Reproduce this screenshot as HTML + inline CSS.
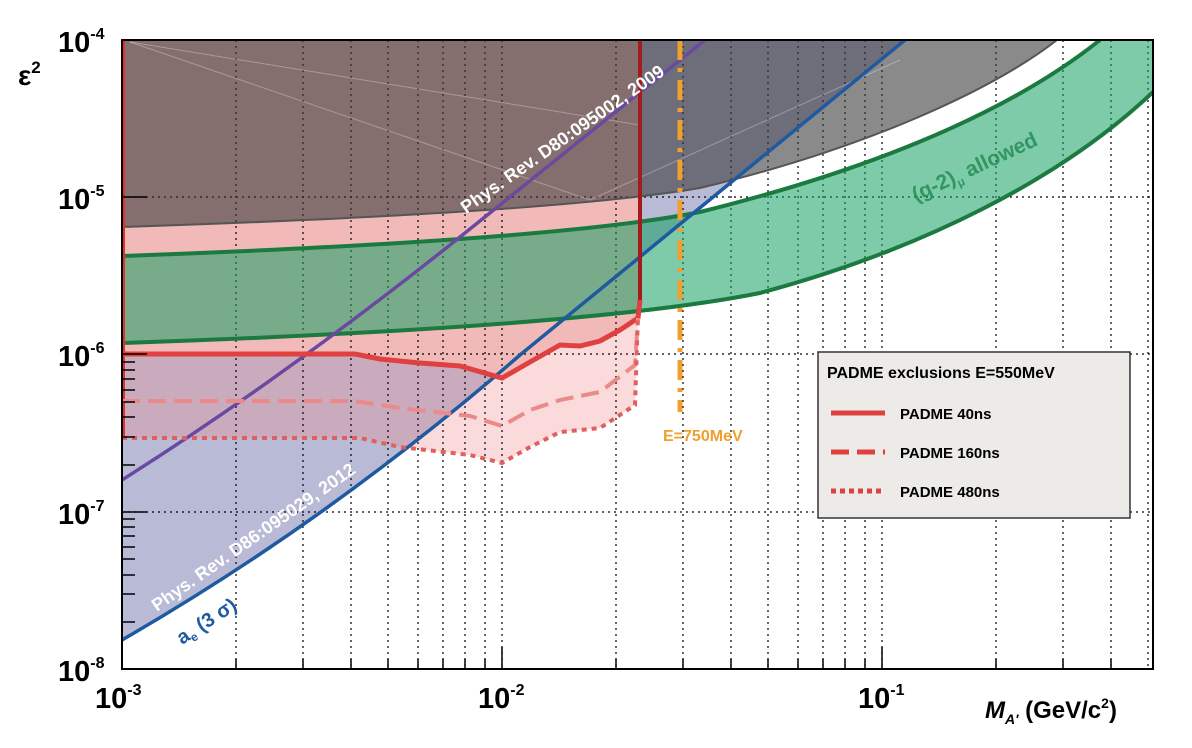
<!DOCTYPE html>
<html><head><meta charset="utf-8"><style>
html,body{margin:0;padding:0;background:#fff;}
svg{display:block;font-family:"Liberation Sans",sans-serif;}
</style></head><body>
<svg width="1192" height="748" viewBox="0 0 1192 748" xmlns="http://www.w3.org/2000/svg">
<defs><clipPath id="c"><rect x="122" y="40" width="1031" height="629"/></clipPath></defs>
<g clip-path="url(#c)">
<path fill="#b8bad6" d="M122,40 L122,640 Q330,520 520,355 L905,40 Z"/>
<polygon fill="rgba(240,140,140,0.32)" points="122,354 355,354 380,359 420,363 460,366 502,378 530,362 560,345 580,346 600,341 620,330 638,318 635,405 600,428 560,432 530,447 502,463 470,455 400,447 360,438 122,438"/>
<polygon fill="#f2b9b9" points="122,40 122,354 355,354 380,359 420,363 460,366 502,378 530,362 560,345 580,346 600,341 620,330 638,318 640,300 640,40"/>
<g stroke="#000" stroke-width="1.2" stroke-dasharray="2,4">
<line x1="236" y1="40" x2="236" y2="669"/><line x1="303" y1="40" x2="303" y2="669"/><line x1="351" y1="40" x2="351" y2="669"/><line x1="388" y1="40" x2="388" y2="669"/><line x1="418" y1="40" x2="418" y2="669"/><line x1="443" y1="40" x2="443" y2="669"/><line x1="465" y1="40" x2="465" y2="669"/><line x1="485" y1="40" x2="485" y2="669"/><line x1="502" y1="40" x2="502" y2="669"/>
<line x1="616" y1="40" x2="616" y2="669"/><line x1="683" y1="40" x2="683" y2="669"/><line x1="731" y1="40" x2="731" y2="669"/><line x1="768" y1="40" x2="768" y2="669"/><line x1="798" y1="40" x2="798" y2="669"/><line x1="823" y1="40" x2="823" y2="669"/><line x1="845" y1="40" x2="845" y2="669"/><line x1="865" y1="40" x2="865" y2="669"/><line x1="882" y1="40" x2="882" y2="669"/>
<line x1="996" y1="40" x2="996" y2="669"/><line x1="1063" y1="40" x2="1063" y2="669"/><line x1="1111" y1="40" x2="1111" y2="669"/><line x1="1148" y1="40" x2="1148" y2="669"/>
<line x1="122" y1="197" x2="1153" y2="197"/><line x1="122" y1="354" x2="1153" y2="354"/><line x1="122" y1="512" x2="1153" y2="512"/>
</g>
<path fill="rgba(60,60,60,0.6)" d="M122,40 L1057,40 C990,92 860,150 700,188 C600,205 400,218 122,227 Z"/>
<path d="M122,227 C400,218 600,205 700,188 C860,150 990,92 1057,40" fill="none" stroke="#555" stroke-width="2"/>
<g stroke="rgba(255,255,255,0.3)" stroke-width="1" fill="none"><line x1="130" y1="42" x2="590" y2="200"/><line x1="130" y1="42" x2="640" y2="125"/><line x1="590" y1="200" x2="900" y2="60"/></g>
<path fill="rgba(20,160,100,0.55)" d="M122,256 C400,246 600,232 700,212 C850,175 1000,120 1100,40 L1160,40 L1160,85 L1153,92 C1060,180 920,250 760,293 C650,315 450,332 122,343 Z"/>
<g fill="none" stroke="#1a7a40" stroke-width="4">
<path d="M122,256 C400,246 600,232 700,212 C850,175 1000,120 1100,40"/>
<path d="M122,343 C450,332 650,315 760,293 C920,250 1060,180 1153,92"/>
</g>
<path d="M122,480 Q280,380 450,245 L705,40" fill="none" stroke="#6a4aa0" stroke-width="3.5"/>
<path d="M122,640 Q330,520 520,355 L905,40" fill="none" stroke="#1f5aa0" stroke-width="3.5"/>
<line x1="123" y1="40" x2="123" y2="440" stroke="#e03030" stroke-width="4"/>
<line x1="640" y1="40" x2="640" y2="300" stroke="#a51a1a" stroke-width="4"/>
<path d="M122,354 L355,354 380,359 420,363 460,366 502,378 530,362 560,345 580,346 600,341 620,330 638,318 640,300" fill="none" stroke="#e04040" stroke-width="5"/>
<path d="M122,401 L355,401 400,408 470,416 502,426 530,410 560,400 600,392 635,365 638,318" fill="none" stroke="#ec8a8a" stroke-width="4" stroke-dasharray="18,8"/>
<path d="M122,438 L360,438 400,447 470,455 502,463 530,447 560,432 600,428 635,405 638,315" fill="none" stroke="#e06060" stroke-width="4" stroke-dasharray="5,5"/>
<line x1="680" y1="40" x2="680" y2="412" stroke="#f0a030" stroke-width="5" stroke-dasharray="20,8,4,8"/>
</g>
<rect x="122" y="40" width="1031" height="629" fill="none" stroke="#000" stroke-width="2"/>
<g stroke="#000" stroke-width="1.5">
<line x1="122" y1="40" x2="147" y2="40"/><line x1="122" y1="197" x2="147" y2="197"/><line x1="122" y1="354" x2="147" y2="354"/><line x1="122" y1="512" x2="147" y2="512"/>
<line x1="122" y1="622" x2="135" y2="622"/><line x1="122" y1="594" x2="135" y2="594"/><line x1="122" y1="575" x2="135" y2="575"/><line x1="122" y1="559" x2="135" y2="559"/><line x1="122" y1="547" x2="135" y2="547"/><line x1="122" y1="536" x2="135" y2="536"/><line x1="122" y1="527" x2="135" y2="527"/><line x1="122" y1="519" x2="135" y2="519"/>
<line x1="122" y1="465" x2="135" y2="465"/><line x1="122" y1="437" x2="135" y2="437"/><line x1="122" y1="417" x2="135" y2="417"/><line x1="122" y1="402" x2="135" y2="402"/><line x1="122" y1="390" x2="135" y2="390"/><line x1="122" y1="379" x2="135" y2="379"/><line x1="122" y1="370" x2="135" y2="370"/><line x1="122" y1="362" x2="135" y2="362"/>
<line x1="236" y1="669" x2="236" y2="659"/><line x1="303" y1="669" x2="303" y2="659"/><line x1="351" y1="669" x2="351" y2="659"/><line x1="388" y1="669" x2="388" y2="659"/><line x1="418" y1="669" x2="418" y2="659"/><line x1="443" y1="669" x2="443" y2="659"/><line x1="465" y1="669" x2="465" y2="659"/><line x1="485" y1="669" x2="485" y2="659"/><line x1="502" y1="669" x2="502" y2="647"/>
<line x1="616" y1="669" x2="616" y2="659"/><line x1="683" y1="669" x2="683" y2="659"/><line x1="731" y1="669" x2="731" y2="659"/><line x1="768" y1="669" x2="768" y2="659"/><line x1="798" y1="669" x2="798" y2="659"/><line x1="823" y1="669" x2="823" y2="659"/><line x1="845" y1="669" x2="845" y2="659"/><line x1="865" y1="669" x2="865" y2="659"/><line x1="882" y1="669" x2="882" y2="647"/>
<line x1="996" y1="669" x2="996" y2="659"/><line x1="1063" y1="669" x2="1063" y2="659"/><line x1="1111" y1="669" x2="1111" y2="659"/>
</g>
<text transform="translate(466,214) rotate(-35)" font-size="18" font-weight="bold" fill="#fff">Phys. Rev. D80:095002, 2009</text>
<text transform="translate(157,612) rotate(-35)" font-size="18" font-weight="bold" fill="#fff">Phys. Rev. D86:095029, 2012</text>
<text transform="translate(182,645) rotate(-33)" font-size="20" font-weight="bold" fill="#1f5aa0">a<tspan font-size="12" dy="4">e</tspan><tspan dy="-4"> (3 σ)</tspan></text>
<text transform="translate(916,202) rotate(-25)" font-size="21" font-weight="bold" fill="#1f8a50" opacity="0.8">(g-2)<tspan font-size="12" dy="5">μ</tspan><tspan dy="-5"> allowed</tspan></text>
<text x="663" y="441" font-size="16" font-weight="bold" fill="#f0a030">E=750MeV</text>
<rect x="818" y="352" width="312" height="166" fill="#ecebe8" stroke="#333" stroke-width="1.5"/>
<text x="827" y="378" font-size="16" font-weight="bold">PADME exclusions E=550MeV</text>
<line x1="831" y1="413" x2="885" y2="413" stroke="#e04040" stroke-width="5"/>
<text x="900" y="419" font-size="15" font-weight="bold">PADME 40ns</text>
<line x1="831" y1="452" x2="885" y2="452" stroke="#e04040" stroke-width="5" stroke-dasharray="18,8"/>
<text x="900" y="458" font-size="15" font-weight="bold">PADME 160ns</text>
<line x1="831" y1="491" x2="885" y2="491" stroke="#e04040" stroke-width="5" stroke-dasharray="5,4"/>
<text x="900" y="497" font-size="15" font-weight="bold">PADME 480ns</text>
<g font-size="29" font-weight="bold">
<text x="58" y="52">10<tspan font-size="16" dy="-13">-4</tspan></text>
<text x="58" y="209">10<tspan font-size="16" dy="-13">-5</tspan></text>
<text x="58" y="366">10<tspan font-size="16" dy="-13">-6</tspan></text>
<text x="58" y="524">10<tspan font-size="16" dy="-13">-7</tspan></text>
<text x="58" y="681">10<tspan font-size="16" dy="-13">-8</tspan></text>
<text x="95" y="708">10<tspan font-size="16" dy="-13">-3</tspan></text>
<text x="478" y="708">10<tspan font-size="16" dy="-13">-2</tspan></text>
<text x="858" y="708">10<tspan font-size="16" dy="-13">-1</tspan></text>
</g>
<text x="18" y="85" font-size="28" font-weight="bold">ε<tspan font-size="17" dy="-12">2</tspan></text>
<text x="985" y="718" font-size="24" font-weight="bold"><tspan font-style="italic">M</tspan><tspan font-style="italic" font-size="14" dy="6">A'</tspan><tspan dy="-6"> (GeV/c</tspan><tspan font-size="14" dy="-10">2</tspan><tspan dy="10">)</tspan></text>
</svg>
</body></html>
